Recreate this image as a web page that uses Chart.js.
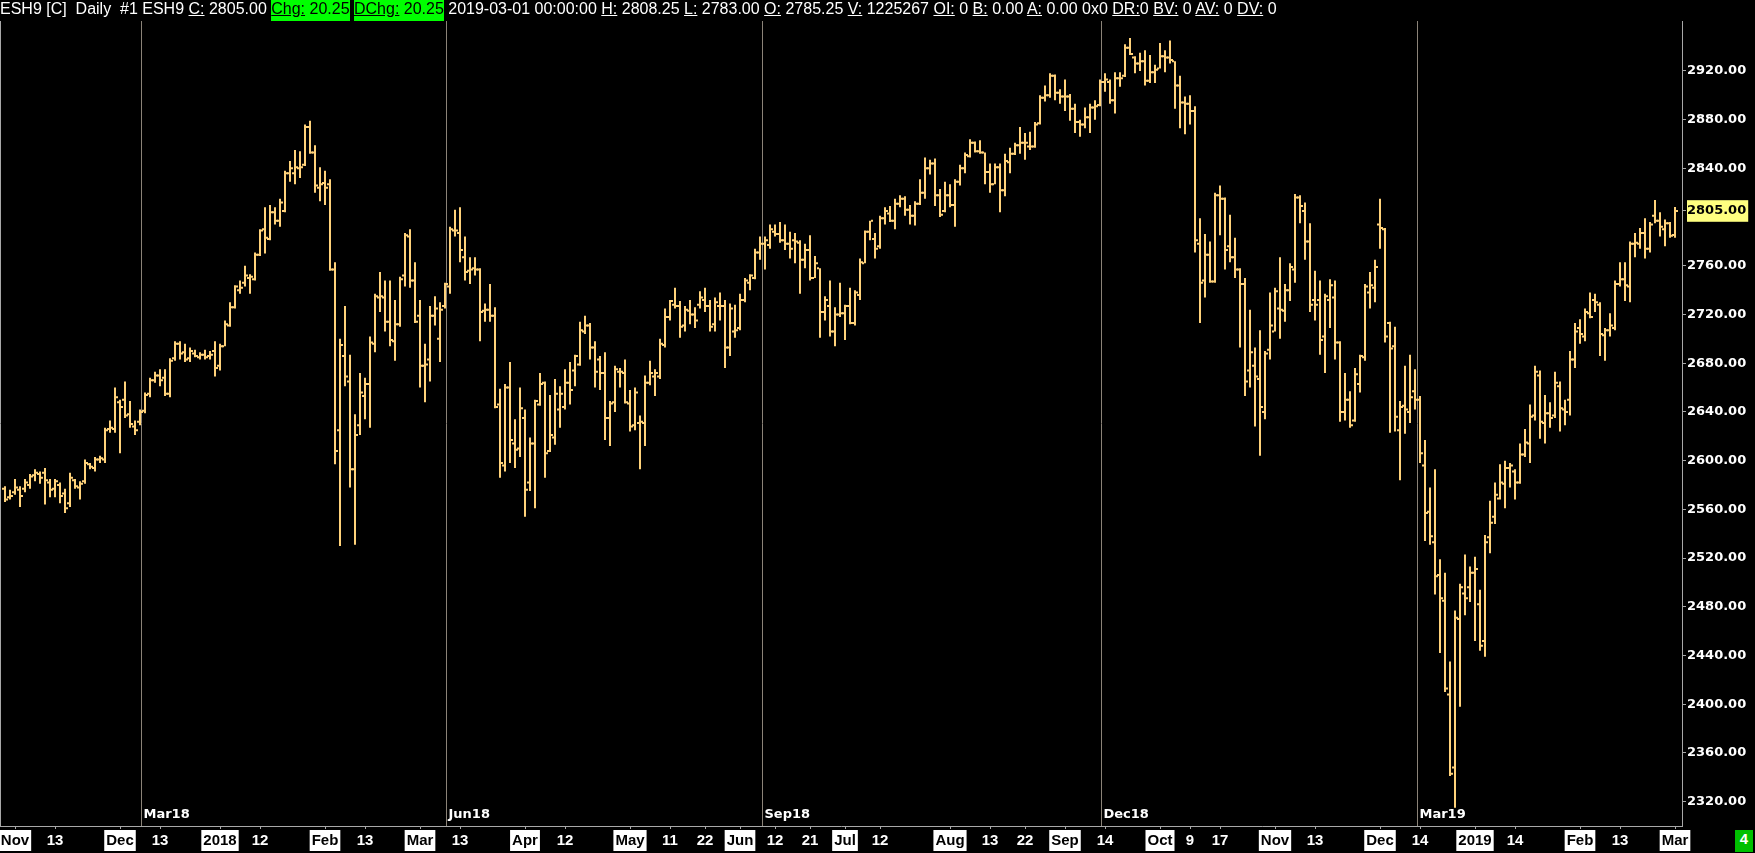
<!DOCTYPE html>
<html>
<head>
<meta charset="utf-8">
<script src="https://cdn.jsdelivr.net/npm/chart.js@4.4.1/dist/chart.umd.min.js"></script>
<style>
  html, body { margin: 0; padding: 0; background: #000; width: 1755px; height: 853px; overflow: hidden; }
  #wrap { position: relative; width: 1755px; height: 853px; }
  #chart { position: absolute; left: 0; top: 0; }
  #hdr { position: absolute; left: 0; top: 0; height: 21px; line-height: 21px; font: 16px "Liberation Sans", Arial, sans-serif; color: #fff; white-space: pre; }
  #hdr .g { background: #00ff00; color: #000; display: inline-block; height: 21px; }
  #four { position: absolute; left: 1735px; top: 830px; width: 18px; height: 22px; line-height: 22px; background: #00c000; color: #fff; font: bold 15px "Liberation Sans", Arial, sans-serif; text-align: center; }
</style>
</head>
<body>
<div id="wrap">
  <canvas id="chart" width="1755" height="853"></canvas>
  <div id="hdr">ESH9 [C]  Daily  #1 ESH9 <u>C:</u> 2805.00 <span class="g"><u>Chg:</u> 20.25</span> <span class="g"><u>DChg:</u> 20.25</span> 2019-03-01 00:00:00 <u>H:</u> 2808.25 <u>L:</u> 2783.00 <u>O:</u> 2785.25 <u>V:</u> 1225267 <u>OI:</u> 0 <u>B:</u> 0.00 <u>A:</u> 0.00 0x0 <u>DR:</u>0 <u>BV:</u> 0 <u>AV:</u> 0 <u>DV:</u> 0</div>
  <div id="four">4</div>
</div>
<script>

// daily bars, index 0 = 30 Oct 2017 ... 334 = 1 Mar 2019
const opens = [
2577,2570,2574,2576,2577,2580,2588,2589,2590,2582,
2577,2580,2573,2565,2584,2578,2583,2597,2594,2601,
2601,2626,2626,2648,2650,2638,2628,2632,2641,2655,
2666,2670,2668,2655,2684,2696,2689,2684,2688,2685,
2687,2686,2690,2678,2694,2711,2726,2740,2746,2750,
2749,2769,2790,2782,2804,2797,2805,2836,2836,2840,
2843,2874,2853,2824,2828,2827,2757,2625,2686,2665,
2593,2629,2653,2663,2696,2734,2734,2714,2698,2712,
2752,2784,2748,2719,2678,2683,2719,2700,2727,2743,
2789,2787,2767,2756,2758,2757,2723,2724,2719,2646,
2596,2660,2614,2610,2635,2582,2614,2646,2664,2608,
2619,2642,2644,2664,2674,2679,2706,2711,2693,2683,
2672,2635,2648,2673,2672,2647,2629,2631,2631,2664,
2669,2669,2695,2718,2728,2727,2711,2723,2720,2728,
2732,2727,2712,2727,2727,2693,2706,2709,2732,2746,
2750,2771,2778,2777,2788,2786,2781,2778,2781,2779,
2765,2773,2750,2758,2722,2727,2706,2720,2721,2727,
2713,2736,2762,2788,2782,2776,2799,2803,2797,2811,
2815,2806,2801,2811,2820,2840,2844,2818,2805,2818,
2810,2829,2840,2850,2861,2854,2853,2837,2827,2841,
2822,2845,2852,2859,2861,2858,2858,2877,2898,2900,
2916,2902,2899,2899,2889,2878,2876,2882,2890,2892,
2911,2911,2896,2914,2916,2939,2931,2926,2928,2912,
2919,2922,2932,2931,2928,2908,2894,2893,2887,2778,
2748,2769,2747,2818,2815,2776,2767,2757,2745,2674,
2678,2667,2640,2691,2706,2725,2723,2740,2757,2816,
2805,2780,2732,2732,2702,2732,2734,2697,2640,2650,
2633,2663,2685,2738,2742,2794,2790,2713,2694,2625,
2645,2640,2657,2650,2596,2558,2533,2506,2485,2408,
2348,2470,2491,2496,2508,2482,2452,2537,2554,2569,
2581,2594,2591,2582,2605,2614,2637,2670,2631,2639,
2637,2661,2642,2650,2683,2709,2702,2721,2732,2728,
2703,2707,2709,2745,2749,2743,2778,2778,2787,2774,
2801,2797,2790,2795,2785.25
]

const highs = [
2579,2576,2585,2579,2585,2589,2593,2591,2594,2585,
2585,2582,2577,2590,2585,2583,2601,2598,2603,2604,
2627,2633,2660,2650,2665,2649,2633,2642,2656,2668,
2673,2675,2675,2684,2698,2698,2696,2693,2691,2689,
2691,2690,2698,2696,2715,2730,2744,2748,2760,2753,
2771,2790,2808,2810,2808,2815,2838,2846,2855,2854,
2876,2879,2859,2841,2838,2831,2763,2700,2727,2687,
2638,2672,2668,2702,2737,2755,2748,2748,2732,2751,
2787,2790,2763,2732,2696,2727,2735,2730,2746,2792,
2806,2808,2784,2767,2767,2758,2729,2745,2726,2659,
2663,2681,2634,2660,2642,2619,2650,2672,2665,2654,
2667,2661,2675,2681,2687,2714,2719,2713,2698,2686,
2689,2649,2678,2676,2683,2658,2660,2637,2670,2682,
2675,2700,2725,2732,2742,2731,2727,2732,2726,2739,
2742,2732,2734,2738,2732,2729,2728,2737,2750,2753,
2774,2784,2784,2794,2794,2796,2794,2788,2787,2781,
2778,2785,2768,2758,2735,2748,2726,2746,2728,2742,
2740,2766,2789,2797,2787,2801,2808,2809,2815,2818,
2817,2810,2813,2831,2849,2847,2848,2823,2829,2827,
2831,2843,2853,2864,2862,2863,2853,2844,2844,2844,
2852,2857,2861,2874,2869,2870,2878,2900,2908,2918,
2917,2905,2913,2901,2893,2880,2890,2893,2896,2913,
2918,2913,2919,2919,2942,2947,2932,2935,2937,2933,
2925,2943,2937,2945,2928,2916,2899,2900,2891,2799,
2786,2780,2820,2826,2816,2802,2783,2758,2750,2724,
2693,2707,2690,2738,2742,2767,2745,2762,2819,2818,
2812,2795,2756,2748,2737,2749,2748,2698,2672,2657,
2676,2687,2745,2755,2765,2815,2791,2714,2710,2649,
2678,2687,2675,2653,2617,2578,2593,2519,2508,2435,
2477,2499,2523,2513,2521,2494,2539,2567,2582,2597,
2600,2598,2593,2614,2626,2646,2678,2674,2654,2648,
2673,2665,2650,2690,2713,2716,2725,2738,2737,2730,
2709,2721,2748,2763,2763,2780,2787,2791,2799,2796,
2814,2804,2798,2796,2808.25
]

const lows = [
2566,2568,2572,2562,2574,2577,2583,2581,2564,2570,
2570,2565,2557,2562,2577,2568,2581,2593,2591,2598,
2598,2623,2623,2606,2635,2627,2621,2629,2639,2652,
2664,2661,2653,2652,2682,2683,2681,2681,2685,2683,
2683,2683,2669,2674,2694,2710,2725,2737,2743,2737,
2748,2768,2770,2781,2794,2792,2804,2829,2827,2832,
2842,2852,2820,2813,2810,2756,2597,2530,2661,2578,
2531,2621,2634,2627,2689,2722,2706,2694,2682,2710,
2743,2742,2713,2660,2648,2665,2711,2681,2725,2737,
2784,2763,2748,2745,2752,2698,2714,2714,2643,2586,
2591,2598,2594,2603,2554,2575,2561,2645,2586,2607,
2613,2627,2642,2646,2661,2678,2704,2683,2660,2658,
2617,2612,2640,2660,2647,2624,2625,2593,2612,2662,
2653,2667,2693,2715,2725,2701,2706,2712,2709,2725,
2722,2706,2706,2715,2676,2686,2701,2707,2730,2740,
2749,2765,2757,2774,2784,2779,2773,2766,2762,2737,
2758,2748,2750,2701,2715,2702,2694,2718,2699,2712,
2711,2732,2762,2781,2766,2774,2794,2796,2790,2808,
2801,2794,2793,2810,2815,2835,2809,2800,2804,2808,
2792,2826,2836,2849,2853,2852,2827,2820,2827,2804,
2817,2836,2851,2852,2847,2855,2857,2876,2895,2898,
2896,2893,2887,2879,2869,2866,2873,2869,2880,2891,
2903,2893,2885,2907,2915,2933,2918,2920,2908,2910,
2910,2922,2919,2926,2889,2873,2868,2876,2771,2713,
2734,2746,2746,2785,2757,2763,2750,2693,2653,2660,
2628,2604,2634,2683,2706,2700,2714,2731,2746,2795,
2765,2722,2715,2687,2672,2709,2683,2632,2633,2627,
2632,2656,2682,2725,2730,2774,2697,2623,2624,2584,
2622,2631,2642,2598,2534,2531,2490,2442,2410,2341,
2315,2398,2473,2484,2452,2444,2439,2524,2548,2568,
2561,2578,2568,2581,2603,2598,2633,2618,2614,2627,
2635,2624,2629,2637,2676,2696,2698,2717,2722,2686,
2682,2702,2707,2743,2731,2730,2767,2774,2766,2771,
2795,2784,2776,2783,2783
]

const closes = [
2568,2571,2578,2571,2582,2587,2590,2586,2584,2576,
2583,2571,2561,2586,2579,2581,2598,2595,2601,2602,
2625,2627,2652,2644,2637,2630,2625,2640,2654,2666,
2670,2666,2655,2682,2696,2688,2683,2690,2686,2687,
2685,2687,2676,2694,2712,2726,2743,2742,2752,2751,
2769,2789,2783,2804,2797,2812,2836,2840,2841,2841,
2874,2853,2826,2827,2824,2757,2608,2695,2669,2593,
2621,2656,2663,2697,2735,2735,2714,2699,2712,2749,
2785,2748,2714,2678,2679,2719,2725,2724,2745,2790,
2789,2773,2755,2757,2757,2722,2724,2719,2644,2598,
2660,2617,2609,2643,2576,2614,2649,2663,2606,2621,
2655,2655,2664,2658,2686,2707,2711,2693,2673,2672,
2635,2647,2675,2673,2648,2628,2656,2632,2664,2672,
2672,2696,2718,2731,2727,2710,2724,2720,2715,2734,
2727,2710,2730,2727,2693,2725,2707,2732,2748,2752,
2771,2778,2781,2790,2786,2781,2778,2774,2780,2765,
2773,2750,2762,2722,2732,2706,2720,2721,2727,2713,
2738,2763,2788,2797,2774,2799,2805,2797,2811,2815,
2806,2801,2811,2820,2840,2844,2818,2802,2818,2810,
2829,2840,2851,2861,2854,2853,2837,2827,2841,2822,
2846,2852,2859,2861,2861,2858,2876,2898,2900,2916,
2902,2899,2899,2889,2878,2876,2882,2890,2891,2911,
2913,2896,2914,2914,2939,2934,2926,2928,2912,2919,
2921,2932,2931,2929,2908,2894,2893,2887,2781,2746,
2769,2747,2818,2815,2773,2767,2757,2745,2665,2689,
2669,2644,2688,2711,2739,2724,2740,2759,2816,2809,
2780,2728,2728,2699,2735,2744,2697,2640,2650,2629,
2671,2686,2743,2744,2759,2791,2702,2692,2636,2644,
2642,2652,2650,2606,2557,2538,2505,2487,2413,2343,
2471,2496,2487,2508,2511,2448,2533,2549,2572,2582,
2594,2596,2582,2605,2615,2636,2673,2632,2639,2635,
2664,2643,2640,2683,2706,2704,2722,2718,2730,2704,
2707,2711,2745,2749,2744,2778,2779,2787,2774,2794,
2797,2792,2795,2784.75,2805
]

// bottom date axis: bar index -> label
const xTickIdx  = [2, 10, 23, 31, 43, 51, 64, 72, 83, 91, 104, 112, 125, 133, 140, 147, 154, 161, 168, 175,
                   189, 197, 204, 212, 220, 231, 237, 243, 254, 262, 275, 283, 294, 302, 315, 323, 334]
const xTickText = ['Nov','13','Dec','13','2018','12','Feb','13','Mar','13','Apr','12','May','11','22','Jun','12','21','Jul','12',
                   'Aug','13','22','Sep','14','Oct','9','17','Nov','13','Dec','14','2019','14','Feb','13','Mar']
const xTickBoxed = ['Nov','Dec','2018','Jan','Feb','Mar','Apr','May','Jun','Jul','Aug','Sep','Oct','2019']

// contract roll lines
const rollIdx    = [27.2, 88.2, 151.4, 219.2, 282.4]
const rollLabels = ['Mar18', 'Jun18', 'Sep18', 'Dec18', 'Mar19']

// price axis
const yTicks = [2320, 2360, 2400, 2440, 2480, 2520, 2560, 2600, 2640, 2680, 2720, 2760, 2840, 2880, 2920]
const lastPrice = 2805

const barColor = '#ffd27a'
const axisColor = '#a8a8a8'

const rangeData = highs.map((h, i) => ({ x: i, y: [lows[i], h] }))
const openData = opens.map((o, i) => ({ x: i - 0.4, y: o }))
const closeData = closes.map((c, i) => ({ x: i + 0.4, y: c }))

const rollLines = {
  id: 'rollLines',
  beforeDatasetsDraw(chart){
    const { ctx, chartArea } = chart
    const xs = chart.scales.x
    ctx.save()
    ctx.lineWidth = 1
    ctx.strokeStyle = axisColor
    ctx.beginPath()
    ctx.moveTo(0.5, chartArea.top)
    ctx.lineTo(0.5, chartArea.bottom)
    ctx.stroke()
    ctx.strokeStyle = '#8b8378'
    ctx.fillStyle = '#fff'
    ctx.font = 'bold 13px "DejaVu Sans"'
    ctx.textBaseline = 'alphabetic'
    rollIdx.forEach((v, i) => {
      const px = Math.round(xs.getPixelForValue(v)) + 0.5
      ctx.beginPath()
      ctx.moveTo(px, chartArea.top)
      ctx.lineTo(px, chartArea.bottom)
      ctx.stroke()
      ctx.fillText(rollLabels[i], px + 2, chartArea.bottom - 8)
    })
    ctx.restore()
  }
}

new Chart(document.getElementById('chart'), {
  type: 'bar',
  data: {
    datasets: [
      {
        label: 'range',
        data: rangeData,
        backgroundColor: barColor,
        barThickness: 2,
        grouped: false,
        inflateAmount: 0,
        borderWidth: 0
      },
      {
        type: 'scatter',
        label: 'open',
        data: openData,
        pointStyle: 'line',
        radius: 1,
        hoverRadius: 1,
        borderWidth: 2,
        borderColor: barColor,
        backgroundColor: barColor
      },
      {
        type: 'scatter',
        label: 'close',
        data: closeData,
        pointStyle: 'line',
        radius: 1,
        hoverRadius: 1,
        borderWidth: 2,
        borderColor: barColor,
        backgroundColor: barColor
      }
    ]
  },
  options: {
    responsive: false,
    animation: false,
    devicePixelRatio: 1,
    events: [],
    layout: { autoPadding: false, padding: { top: 21, left: 0, right: 0, bottom: 0 } },
    plugins: {
      legend: { display: false },
      tooltip: { enabled: false }
    },
    scales: {
      x: {
        type: 'linear',
        position: 'bottom',
        offset: false,
        min: -1,
        max: 335.4,
        border: { display: true, color: axisColor, width: 1 },
        grid: { offset: false, drawOnChartArea: false, drawTicks: true, tickLength: 3, color: axisColor },
        afterBuildTicks: s => { s.ticks = xTickIdx.map(v => ({ value: v })) },
        afterFit: s => { s.height = 27; s.paddingLeft = 0; s.paddingRight = 0 },
        ticks: {
          autoSkip: false,
          maxRotation: 0,
          minRotation: 0,
          padding: 3,
          font: { family: 'Liberation Sans', size: 15, weight: 'bold' },
          color: c => xTickBoxed.includes(xTickText[c.index]) ? '#000' : '#fff',
          showLabelBackdrop: c => xTickBoxed.includes(xTickText[c.index]),
          backdropColor: '#fff',
          backdropPadding: { top: 2, bottom: 1, left: 2, right: 2 },
          callback: (v, i) => xTickText[i]
        }
      },
      y: {
        type: 'linear',
        position: 'right',
        min: 2300,
        max: 2961,
        border: { display: true, color: axisColor, width: 1 },
        grid: { drawOnChartArea: false, drawTicks: true, tickLength: 4, color: axisColor },
        afterBuildTicks: s => { s.ticks = yTicks.concat([lastPrice]).map(v => ({ value: v })) },
        afterFit: s => { s.width = 73; s.paddingTop = 0; s.paddingBottom = 0 },
        ticks: {
          padding: 1,
          font: { family: 'DejaVu Sans', size: 13, weight: 'bold' },
          color: c => c.tick && c.tick.value === lastPrice ? '#000' : '#fff',
          showLabelBackdrop: c => !!(c.tick && c.tick.value === lastPrice),
          backdropColor: '#ffff80',
          backdropPadding: { top: 3, bottom: 3, left: 0, right: 2 },
          callback: v => Number(v).toFixed(2)
        }
      }
    }
  },
  plugins: [rollLines]
})
</script>
</body>
</html>
